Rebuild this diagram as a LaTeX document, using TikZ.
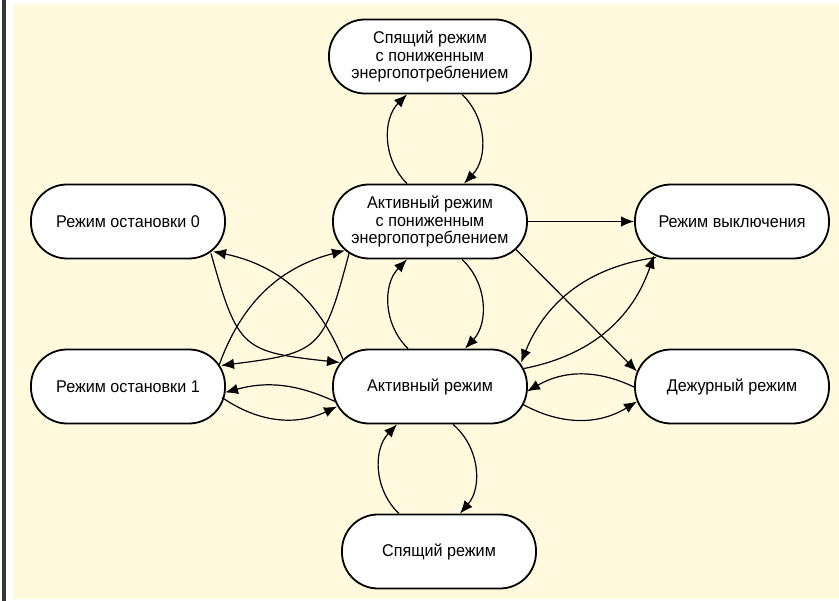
\documentclass[tikz,border=0pt]{standalone}
\usepackage{fontspec}
\setmainfont[FakeStretch=0.95]{Liberation Sans}
\usetikzlibrary{arrows.meta}
\tikzset{>={Latex[width=10.5pt,length=13pt]}}
\definecolor{paper}{RGB}{255,250,222}
\definecolor{edgebar}{RGB}{55,55,55}
\tikzset{regime/.style={draw, line width=1.8pt, fill=white, rounded corners=36pt,
    minimum width=194pt, minimum height=74pt, inner sep=0pt, align=center,
    font=\fontsize{17}{17.5}\selectfont}}

\begin{document}
\begin{tikzpicture}[line width=1.2pt]

  \newcommand\X{302pt};
  \newcommand\Y{165pt};

  \useasboundingbox (-430pt,-214.5pt) rectangle (409pt,386.5pt);
  \fill[paper] (-417pt,-212.5pt) rectangle (409pt,382.5pt);
  \fill[edgebar] (-428pt,-214.5pt) rectangle (-424pt,386.5pt);

  \node[regime, minimum width=202pt] (sleeplp) at (0, 2*\Y) {Спящий режим\\с пониженным\\энергопотреблением};
  \node[regime] (stop0) at (-1*\X, 1*\Y) {Режим остановки 0};
  \node[regime] (actlp) at (0, 1*\Y) {Активный режим\\с пониженным\\энергопотреблением};
  \node[regime] (off) at (1*\X, 1*\Y) {Режим выключения};
  \node[regime] (stop1) at (-1*\X, 0) {Режим остановки 1};
  \node[regime] (act) at (0, 0) {Активный режим};
  \node[regime] (standby) at (1*\X, 0) {Дежурный режим};
  \node[regime] (sleep) at (9pt, -1*\Y) {Спящий режим};

  % vertical pairs
  \draw[->] ([xshift=-23pt]actlp.north) to[bend left=45] ([xshift=-23pt]sleeplp.south); %% actlp->sleeplp
  \draw[->] ([xshift=32pt]sleeplp.south) to[bend left=45] ([xshift=34pt]actlp.north); %% sleeplp->actlp
  \draw[->] ([xshift=-22pt]act.north) to[bend left=45] ([xshift=-23pt]actlp.south); %% act->actlp
  \draw[->] ([xshift=32pt]actlp.south) to[bend left=45] ([xshift=35pt]act.north); %% actlp->act
  \draw[->] ([xshift=-40pt]sleep.north) to[bend left=45] ([xshift=-33pt]act.south); %% sleep->act
  \draw[->] ([xshift=23pt]act.south) to[bend left=45] ([xshift=21pt]sleep.north); %% act->sleep

  % straight ones
  \draw[->] (actlp.east) -- (off.west); %% actlp->off
  \draw[->] ([shift={(86pt,-28pt)}]actlp.center) -- ([shift={(-95pt,15pt)}]standby.center); %% actlp->standby

  % horizontal pairs
  \draw[->] ([shift={(-95pt,-15pt)}]act.center) to[bend right=20] ([shift={(97pt,-6pt)}]stop1.center); %% act->stop1
  \draw[->] ([shift={(94pt,-11pt)}]stop1.center) to[bend right=30] ([shift={(-93pt,-20pt)}]act.center); %% stop1->act
  \draw[->] ([shift={(-97pt,-1pt)}]standby.center) to[bend right=28] ([shift={(97pt,-5pt)}]act.center); %% standby->act
  \draw[->] ([shift={(93pt,-18pt)}]act.center) to[bend right=30] ([shift={(-95pt,-15pt)}]standby.center); %% act->standby

  % diagonals
  \draw[->] ([shift={(-87pt,27pt)}]act.center) to[bend right=28] ([shift={(85pt,-30pt)}]stop0.center); %% act->stop0
  \draw[->] ([shift={(83pt,-32pt)}]stop0.center) to[bend right=34, looseness=1.5] ([shift={(-90pt,24pt)}]act.center); %% stop0->act
  \draw[->] ([shift={(91pt,21pt)}]stop1.center) to[bend left=28] ([shift={(-85pt,-29pt)}]actlp.center); %% stop1->actlp
  \draw[->] ([shift={(-81pt,-32pt)}]actlp.center) to[bend left=34, looseness=1.5] ([shift={(93pt,21pt)}]stop1.center); %% actlp->stop1
  \draw[->] ([shift={(-76pt,-36pt)}]off.center) to[bend right=30] ([shift={(91pt,24pt)}]act.center); %% off->act
  \draw[->] ([shift={(94pt,18pt)}]act.center) to[bend right=30] ([shift={(-78pt,-34pt)}]off.center); %% act->off

\end{tikzpicture}
\end{document}
